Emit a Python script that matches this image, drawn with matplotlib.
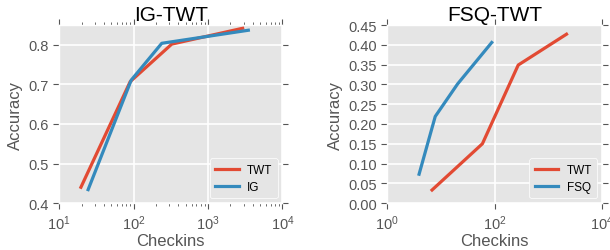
import matplotlib
matplotlib.use('Agg')
import matplotlib.pyplot as plt

# IG-TWT panel
ig_twt_checkins = [19.6, 90, 326, 2920]
ig_twt_acc = [0.440, 0.707, 0.802, 0.842]
ig_checkins = [24.5, 93, 239, 3480]
ig_acc = [0.434, 0.711, 0.804, 0.837]

# FSQ-TWT panel
fsq_twt_checkins = [6.8, 59, 274, 2175]
fsq_twt_acc = [0.033, 0.150, 0.349, 0.427]
fsq_checkins = [3.9, 7.8, 20.3, 88]
fsq_acc = [0.073, 0.219, 0.301, 0.406]

red = '#E24A33'
blue = '#348ABD'

plt.style.use('ggplot')
plt.rcParams['font.family'] = ['Liberation Sans', 'DejaVu Sans']
plt.rcParams['mathtext.default'] = 'regular'
plt.rcParams['axes.edgecolor'] = 'white'


def style_axes(ax, title):
    ax.set_xscale('log')
    ax.set_title(title, fontsize=15, color='black', pad=4)
    ax.set_xlabel('Checkins', fontsize=12, color='#555555', labelpad=1)
    ax.set_ylabel('Accuracy', fontsize=12, color='#555555')
    ax.tick_params(which='both', top=True, right=True, direction='out',
                   color='#555555', labelcolor='#555555', labelsize=10.5)
    ax.tick_params(which='major', length=4, width=0.8)
    ax.tick_params(which='minor', length=2, width=0.6)
    ax.grid(True, which='major', color='white', linewidth=1.2)
    ax.grid(False, which='minor')
    leg = ax.legend(loc='lower right', fontsize=8.5, handlelength=2.0,
                    handletextpad=0.7, facecolor='#E5E5E5', edgecolor='white',
                    framealpha=1, borderpad=0.45, labelspacing=0.45,
                    borderaxespad=0.4)
    for t in leg.get_texts():
        t.set_color('black')


fig = plt.figure(figsize=(6.1, 2.51), dpi=100)

ax1 = fig.add_axes([0.097, 0.187, 0.366, 0.709])
ax1.plot(ig_twt_checkins, ig_twt_acc, color=red, lw=2.3, label='TWT')
ax1.plot(ig_checkins, ig_acc, color=blue, lw=2.3, label='IG')
ax1.set_xlim(10, 1e4)
ax1.set_ylim(0.4, 0.85)
ax1.set_yticks([0.4, 0.5, 0.6, 0.7, 0.8])
style_axes(ax1, 'IG-TWT')

ax2 = fig.add_axes([0.635, 0.187, 0.352, 0.709])
ax2.plot(fsq_twt_checkins, fsq_twt_acc, color=red, lw=2.3, label='TWT')
ax2.plot(fsq_checkins, fsq_acc, color=blue, lw=2.3, label='FSQ')
ax2.set_xlim(1, 1e4)
ax2.set_ylim(0, 0.45)
ax2.set_yticks([0.0, 0.05, 0.10, 0.15, 0.20, 0.25, 0.30, 0.35, 0.40, 0.45])
ax2.set_yticklabels(['0.00', '0.05', '0.10', '0.15', '0.20', '0.25',
                     '0.30', '0.35', '0.40', '0.45'])
style_axes(ax2, 'FSQ-TWT')

fig.savefig('out.png', dpi=100)
